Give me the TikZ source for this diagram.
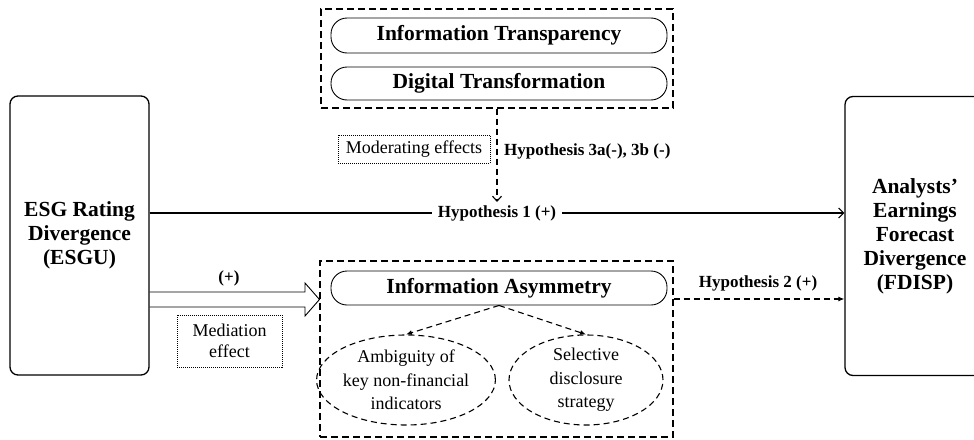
\documentclass[tikz,border=0pt]{standalone}
\usepackage{fontspec}
\setmainfont{Liberation Serif}
\usetikzlibrary{shapes.geometric,arrows.meta,calc}
\begin{document}
\begin{tikzpicture}[x=1pt,y=-1pt,
  bigbox/.style={draw, line width=1.3pt, rounded corners=8pt, align=center,
    font=\fontsize{21.5}{24}\selectfont\bfseries, inner sep=0pt},
  pill/.style={draw, line width=0.9pt, rounded corners=16pt, inner sep=0pt,
    font=\fontsize{21.5}{24}\selectfont\bfseries},
  dbox/.style={draw, line width=1.1pt, dash pattern=on 7pt off 4pt},
  dotbox/.style={draw, line width=0.9pt, dash pattern=on 1pt off 1pt, align=center, inner sep=0pt,
    font=\fontsize{18}{21}\selectfont},
  hyp/.style={font=\fontsize{17}{20}\selectfont\bfseries, inner sep=1pt},
  ell/.style={draw, ellipse, line width=1.1pt, dash pattern=on 6pt off 4pt, align=center, inner sep=0pt,
    font=\fontsize{18}{23.5}\selectfont},
  dasharrow/.style={line width=1.1pt, dash pattern=on 6pt off 4pt},
]
\useasboundingbox (0,0) rectangle (974,439);
% main boxes
\node[bigbox, minimum width=139pt, minimum height=279pt] (esgu) at (79.5,235.5) {ESG Rating\\Divergence\\(ESGU)};
\node[bigbox, minimum width=140pt, minimum height=279pt] (fdisp) at (915,236) {Analysts'\\Earnings\\Forecast\\Divergence\\(FDISP)};
% top moderator group
\node[dbox, minimum width=352pt, minimum height=99pt] (topbox) at (497,58.5) {};
\node[pill, minimum width=336pt, minimum height=35pt] (it) at (499,35.5) {Information Transparency};
\node[pill, minimum width=336pt, minimum height=33pt] (dt) at (499,83.5) {Digital Transformation};
\node[dotbox, minimum width=152pt, minimum height=28pt] (mod) at (414,149) {Moderating effects};
\node[hyp, anchor=west] (h3) at (503,151) {Hypothesis 3a(-), 3b (-)};
\coordinate (modend) at (497,202);
\draw[dasharrow, -{Straight Barb[length=5pt,width=9pt]}] (topbox.south) -- (modend);
% hypothesis 1
\coordinate (h1y) at (0,213);
\draw[line width=1.1pt, -{Straight Barb[length=5pt,width=10pt]}] (esgu.east |- h1y) -- node[hyp, fill=white, inner xsep=6pt] (h1) {Hypothesis 1 (+)} (fdisp.west |- h1y);
% bottom mediator group
\node[dbox, minimum width=353pt, minimum height=176pt] (botbox) at (496.5,349) {};
\node[pill, minimum width=336pt, minimum height=34pt] (ia) at (499,288) {Information Asymmetry};
\node[ell, minimum width=151pt, minimum height=90pt] (e1) at (406,380) {Ambiguity of\\key non-financial\\indicators};
\node[ell, minimum width=154pt, minimum height=90pt] (e2) at (586,380) {Selective\\disclosure\\strategy};
\draw[dasharrow, -{Latex[length=6pt,width=5pt]}] (ia.south) -- (e1.north);
\draw[dasharrow, -{Latex[length=6pt,width=5pt]}] (ia.south) -- (e2.north);
% mediation double arrow
\draw[line width=0.9pt] (esgu.east |- 0,292) -- (305,292) -- (305,283) -- (botbox.west |- 0,299.5) -- (305,316) -- (305,307) -- (esgu.east |- 0,307);
\node[hyp] (plus) at (229,278) {(+)};
\node[dotbox, minimum width=105pt, minimum height=52pt] (med) at (229.5,341) {Mediation\\effect};
% hypothesis 2
\coordinate (h2y) at (0,299);
\draw[dasharrow, -{Latex[length=6pt,width=5pt]}] (botbox.east |- h2y) -- (fdisp.west |- h2y);
\node[hyp] (h2) at (758,283) {Hypothesis 2 (+)};
\end{tikzpicture}
\end{document}
